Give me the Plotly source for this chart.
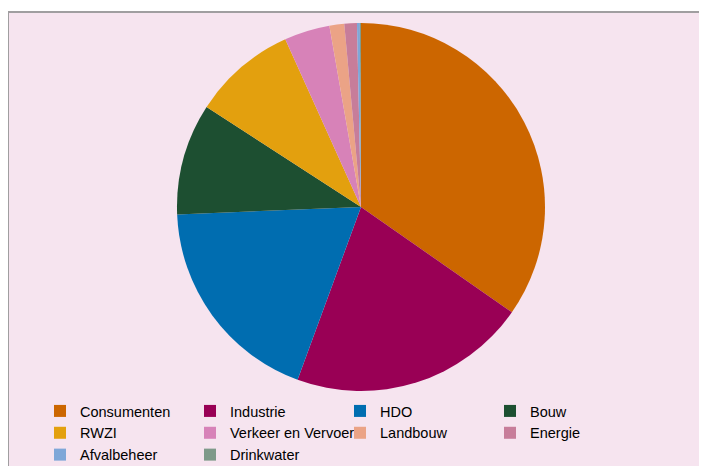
import plotly.graph_objects as go

categories = ["Consumenten", "Industrie", "HDO", "Bouw", "RWZI",
              "Verkeer en Vervoer", "Landbouw", "Energie", "Afvalbeheer", "Drinkwater"]
values = [34.7, 20.9, 18.75, 9.8, 9.1, 4.0, 1.3, 1.1, 0.25, 0.1]
colors = ["#CC6600", "#990055", "#006DB0", "#1D4F31", "#E3A00E",
          "#D782B8", "#EBA386", "#C77D9A", "#7FA7D8", "#7F9A8A"]

# page has an 8px body margin; figure sized to fit the 707x466 window
OFF = 8
W, H = 707 - OFF, 466 - OFF
ml, mt = 0, 4
pw, ph = W - ml, H - mt

def px_x(page_x):
    return (page_x - OFF - ml) / pw

def px_y(page_y):
    return (H - (page_y - OFF)) / ph

fig = go.Figure(go.Pie(
    labels=categories, values=values, sort=False, direction="clockwise",
    rotation=0, textinfo="none", hoverinfo="label+percent",
    marker=dict(colors=colors, line=dict(width=0)),
    domain=dict(x=[px_x(177), px_x(545)], y=[px_y(391), px_y(23)]),
))

fig.add_shape(type="rect", xref="paper", yref="paper", layer="below",
              x0=0, x1=1.2, y0=-0.2, y1=1,
              fillcolor="#F6E4EF", line=dict(color="#A09EA0", width=2))

fig.update_layout(
    width=W, height=H, margin=dict(l=ml, t=mt, r=0, b=0, autoexpand=False),
    paper_bgcolor="white",
    font=dict(family="Liberation Sans, Arial, sans-serif", size=14.5, color="#000000"),
    showlegend=True,
    legend=dict(orientation="h", x=px_x(40), xanchor="left",
                y=px_y(395), yanchor="top", entrywidth=105, entrywidthmode="pixels",
                bgcolor="rgba(0,0,0,0)", traceorder="normal",
                font=dict(size=14.5)),
)

fig.write_html("out.html")
